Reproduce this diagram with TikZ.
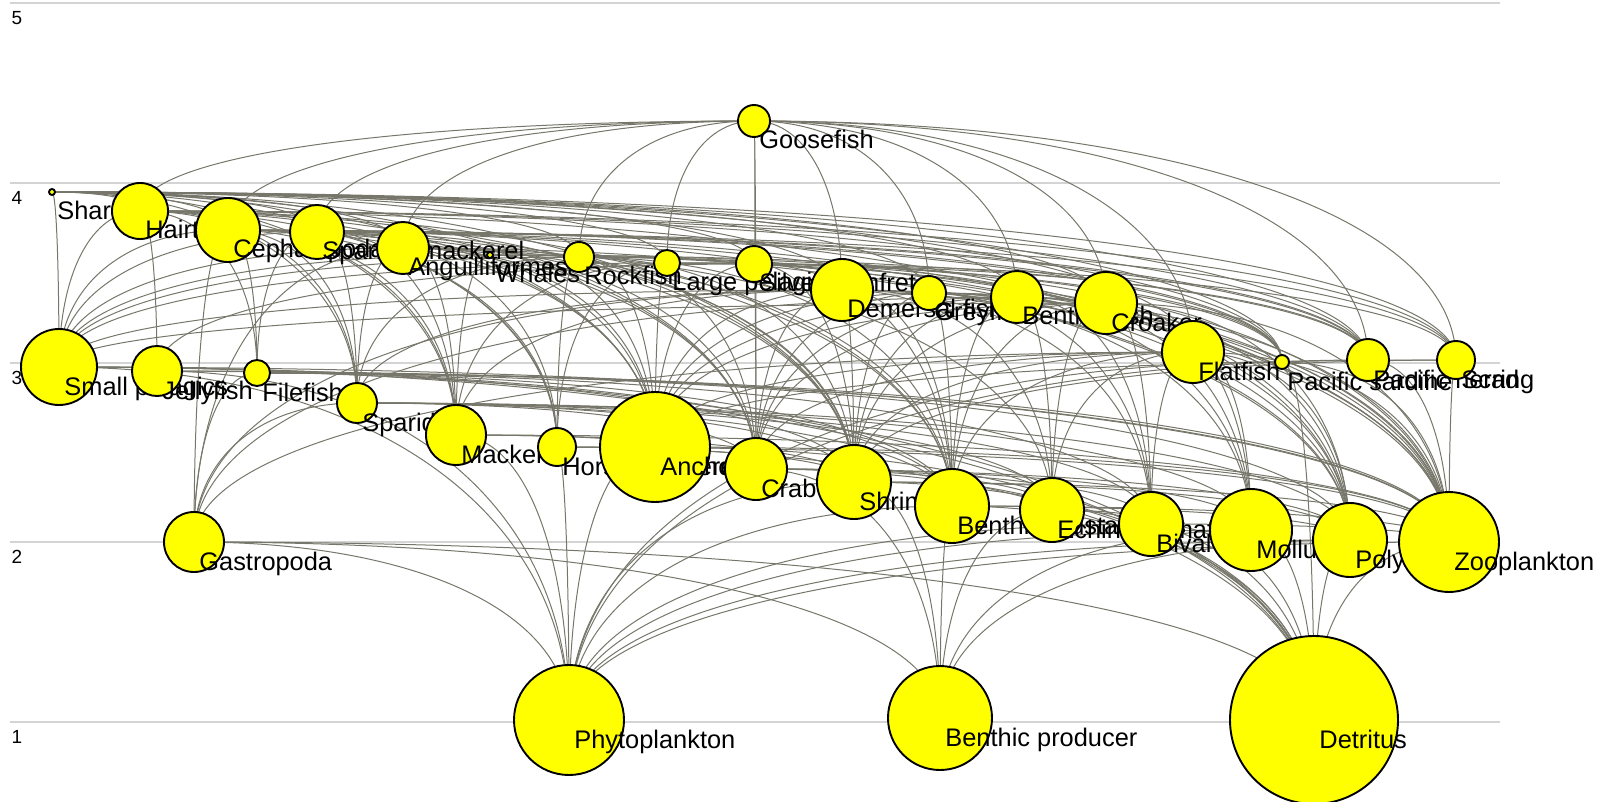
\documentclass[tikz,border=0pt]{standalone}
\usepackage{fontspec}
\setmainfont{Liberation Sans}
\usetikzlibrary{calc, backgrounds}
\definecolor{linkgray}{RGB}{118,118,106}
\definecolor{gridgray}{RGB}{212,212,212}
\definecolor{nodeyellow}{RGB}{255,255,0}

\begin{document}
\begin{tikzpicture}[x=0.5pt, y=-0.5pt,
    species/.style={circle, draw=black, line width=0.95pt, fill=nodeyellow, inner sep=0pt},
    spname/.style={anchor=base west, inner sep=0pt, font=\fontsize{12.7}{14}\selectfont},
    tlabel/.style={inner sep=0pt, font=\fontsize{9.5}{11}\selectfont},
    gridrule/.style={draw=gridgray, line width=1pt},
    feed/.style={draw=linkgray, line width=0.5pt}
]
\useasboundingbox (0,0) rectangle (1612,802);

% trophic levels
\begin{scope}[on background layer]
  \foreach \lv/\gy in {5/3.3, 4/183, 3/362.5, 2/542, 1/721.5}{
    \draw[gridrule] (10,\gy) -- (1500,\gy);
    \node[tlabel] (tl\lv) at (17,\gy+15) {\lv};
  }
\end{scope}

% species
\foreach \n/\x/\y/\rad/\lab in {
    shark/52/192/3/Sharks, hair/140/211/28/Hairtail, ceph/228/230/32/Cephalopoda,
    spmack/317/232/27/Spanish mackerel, angu/403/248/26/Anguilliformes,
    whale/490/255/3/Whales, rock/579/257/15/Rockfish, lpel/667/263/13/Large pelagics,
    silv/754/264/18/Silver pomfret, deme/842/290/31/Demersal fish, grey/929/293/17/Greyfish,
    bent/1017/297/26/Benthic fish, croa/1106/303/31/Croaker, flat/1193/352/31/Flatfish,
    psard/1282/362/7/Pacific sardine, pherr/1368/360/21/Pacific herring, scad/1456/360/19/Scad,
    goose/754/121/16/Goosefish,
    smpel/59/367/38/Small pelagics, jelly/157/371/25/Jellyfish, file/257/373/13/Filefish,
    spar/357/403/20/Sparidae, mack/456/435/30/Mackerel, hors/557/447/19/Horse mackerel,
    anch/655/447/55/Anchovy, crab/756/469/31/Crab, shri/854/482/37/Shrimp,
    bcru/952/506/37/Benthic crustaceans, echi/1052/510/32/Echinodermata,
    biva/1151/524/32/Bivalves, moll/1251/530/41/Mollusca, poly/1350/540/37/Polychaeta,
    zoo/1449/542/50/Zooplankton, gast/194/542/30/Gastropoda,
    phyt/569/720/55/Phytoplankton, bpro/940/718/52/Benthic producer, detr/1314/720/84/Detritus}{
  \node[species, minimum size=\rad pt] (\n) at (\x,\y) {};
  \node[spname] (\n-l) at (\x+5,\y+28) {\lab};
}

% feeding links, predator -> prey
\begin{scope}[on background layer]
\foreach \a/\preys in {
    shark/{hair,ceph,spmack,angu,rock,lpel,silv,deme,grey,bent,croa,flat,psard,pherr,scad,smpel,spar,mack,hors,anch,crab,shri},
    goose/{hair,ceph,spmack,angu,rock,lpel,silv,deme,grey,bent,croa,flat,pherr,scad,crab},
    hair/{ceph,smpel,jelly,file,spar,mack,hors,anch,crab,shri,bcru,zoo,psard,pherr,scad},
    ceph/{smpel,file,spar,mack,hors,anch,crab,shri,bcru,zoo,poly,gast,psard,pherr},
    spmack/{smpel,file,spar,mack,hors,anch,shri,zoo,psard,pherr,scad},
    angu/{smpel,spar,mack,anch,crab,shri,bcru,echi,poly,gast},
    whale/{smpel,mack,anch,zoo,psard,pherr},
    rock/{smpel,spar,hors,anch,crab,shri,bcru,zoo,poly},
    lpel/{smpel,mack,hors,anch,zoo,psard,pherr,scad},
    silv/{jelly,anch,crab,shri,bcru,poly,zoo},
    deme/{smpel,spar,mack,anch,crab,shri,bcru,echi,biva,moll,poly,zoo,gast},
    grey/{anch,crab,shri,bcru,biva,moll,poly,zoo},
    bent/{anch,crab,shri,bcru,echi,biva,moll,poly,gast},
    croa/{smpel,anch,crab,shri,bcru,echi,biva,moll,poly,zoo},
    flat/{anch,crab,shri,bcru,echi,biva,moll,poly,zoo,gast},
    psard/{zoo,phyt,detr},
    pherr/{zoo,phyt},
    scad/{zoo,shri,anch},
    smpel/{zoo,phyt,detr,bcru,shri},
    jelly/{zoo,phyt,detr},
    file/{zoo,poly,biva,gast,bcru},
    spar/{crab,shri,bcru,echi,biva,moll,poly,gast},
    mack/{zoo,anch,shri,phyt},
    hors/{zoo,anch,shri,phyt,detr},
    anch/{zoo,phyt,detr},
    crab/{echi,biva,moll,poly,detr,bpro},
    shri/{zoo,poly,detr,bpro,phyt},
    bcru/{zoo,poly,detr,bpro,phyt},
    echi/{biva,detr,bpro},
    biva/{zoo,phyt,detr},
    moll/{detr,bpro,phyt},
    poly/{detr,bpro,phyt},
    zoo/{phyt,detr},
    gast/{detr,bpro,phyt}}{
  \foreach \b in \preys {
    \coordinate (k) at (\a.center -| \b.center);
    \draw[feed] (\a.center) .. controls ($(\a)!.6!(k)$) and ($(\b)!.6!(k)$) .. (\b.center);
  }
}
\end{scope}
\end{tikzpicture}
\end{document}
